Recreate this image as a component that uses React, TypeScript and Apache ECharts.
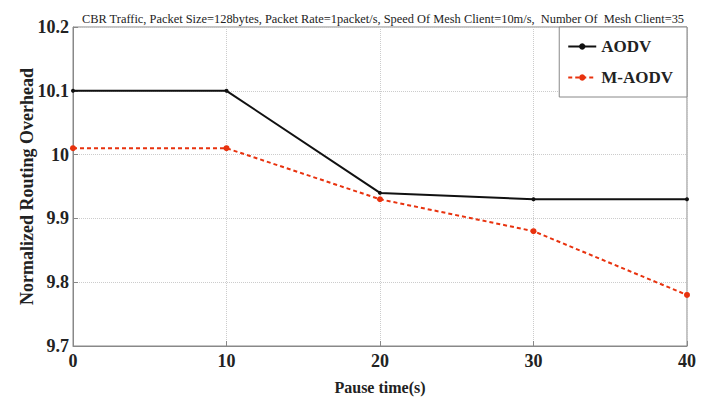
import React, { useEffect, useRef } from "react";
import * as echarts from "echarts";

const pauseTimes = [0, 10, 20, 30, 40];
const aodv = [10.1, 10.1, 9.94, 9.93, 9.93];
const mAodv = [10.01, 10.01, 9.93, 9.88, 9.78];
const titleText =
  "CBR Traffic, Packet Size=128bytes, Packet Rate=1packet/s, Speed Of Mesh Client=10m/s,  Number Of  Mesh Client=35";

const FONT = "Liberation Serif";

export default function App() {
  const ref = useRef<HTMLDivElement>(null);
  useEffect(() => {
    if (!ref.current) return;
    const chart = echarts.init(ref.current, null, { renderer: "svg" });
    chart.setOption({
      animation: false,
      backgroundColor: "#fff",
      title: {
        text: titleText,
        left: 378,
        textAlign: "center",
        top: 8,
        textStyle: { fontFamily: FONT, fontSize: 12.4, fontWeight: "normal", color: "#222" },
      },
      grid: {
        left: 73,
        top: 27,
        right: 18,
        bottom: 50,
        show: true,
        borderColor: "#888",
        borderWidth: 1,
      },
      legend: {
        orient: "vertical",
        right: 18,
        top: 27,
        itemGap: 14,
        padding: [11, 14, 11, 8],
        backgroundColor: "#fff",
        borderColor: "#888",
        borderWidth: 1,
        borderRadius: 0,
        itemWidth: 28,
        itemHeight: 8,
        textStyle: { fontFamily: FONT, fontSize: 17, fontWeight: "bold", color: "#222" },
        data: ["AODV", "M-AODV"],
      },
      xAxis: {
        type: "value",
        min: 0,
        max: 40,
        interval: 10,
        name: "Pause time(s)",
        nameLocation: "middle",
        nameGap: 33,
        nameMoveOverlap: false,
        nameTextStyle: { fontFamily: FONT, fontSize: 16, fontWeight: "bold", color: "#222" },
        axisLine: { show: true, lineStyle: { color: "#888" } },
        axisTick: { show: true, inside: true, length: 5, lineStyle: { color: "#888" } },
        axisLabel: { fontFamily: FONT, fontSize: 18, fontWeight: "bold", color: "#222", margin: 6 },
        splitLine: { show: true, lineStyle: { color: "#ccc", type: "dotted" } },
      },
      yAxis: {
        type: "value",
        min: 9.7,
        max: 10.2,
        interval: 0.1,
        name: "Normalized Routing Overhead",
        nameLocation: "middle",
        nameGap: 37,
        nameMoveOverlap: false,
        nameTextStyle: { fontFamily: FONT, fontSize: 18, fontWeight: "bold", color: "#222" },
        axisLine: { show: true, lineStyle: { color: "#888" } },
        axisTick: { show: true, inside: true, length: 5, lineStyle: { color: "#888" } },
        axisLabel: {
          fontFamily: FONT,
          fontSize: 18,
          fontWeight: "bold",
          color: "#222",
          margin: 4,
          formatter: (v: number) => String(+v.toFixed(1)),
        },
        splitLine: { show: true, lineStyle: { color: "#ccc", type: "dotted" } },
      },
      series: [
        {
          name: "AODV",
          type: "line",
          data: pauseTimes.map((x, i) => [x, aodv[i]]),
          symbol: "circle",
          symbolSize: 4,
          itemStyle: { color: "#111" },
          lineStyle: { color: "#111", width: 2 },
        },
        {
          name: "M-AODV",
          type: "line",
          data: pauseTimes.map((x, i) => [x, mAodv[i]]),
          symbol: "circle",
          symbolSize: 6,
          itemStyle: { color: "#e8320e" },
          lineStyle: { color: "#e8320e", width: 2, type: [4, 3] },
        },
      ],
    });
    return () => chart.dispose();
  }, []);
  return <div ref={ref} style={{ width: 705, height: 400, position: "absolute", left: 0, top: 0 }} />;
}
